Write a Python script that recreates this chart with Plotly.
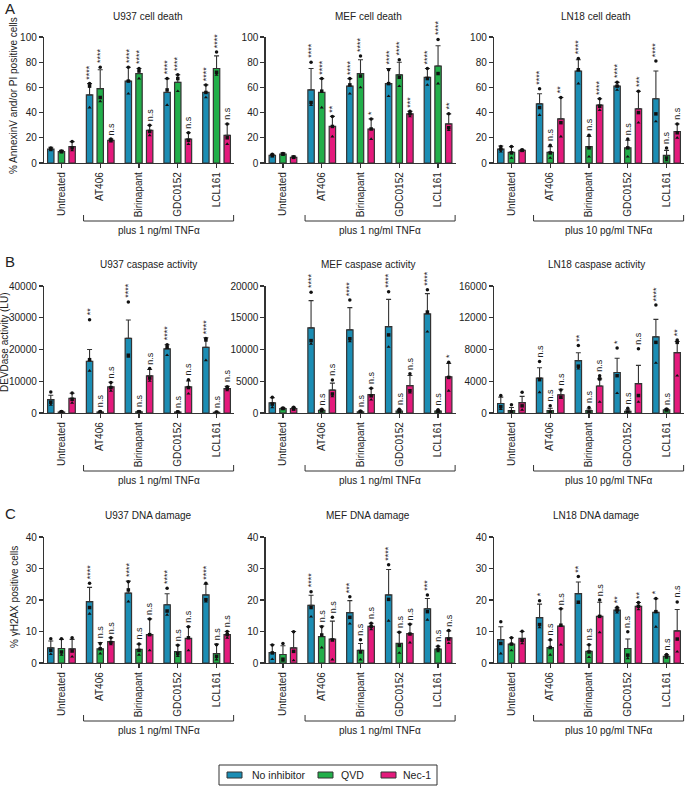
import plotly.graph_objects as go

W, H = 685, 786
FONT = "Liberation Sans, Arial, sans-serif"
TXT = "#222222"
LINE = "#333333"

categories = ["Untreated", "AT406", "Birinapant", "GDC0152", "LCL161"]
series_names = ["No inhibitor", "QVD", "Nec-1"]
series_colors = ["#1B8DB4", "#22AF4A", "#E41A7C"]

# ---------------- Row A: cell death (%) ----------------
a1_mean = [[11, 54, 65, 56, 56], [9, 59, 71, 64, 75], [13, 18, 26, 19, 22]]
a1_sd = [[1.5, 9, 11, 11, 6], [1, 15, 4, 6, 10], [4, 1, 4, 5, 9]]
a1_pts = [
    [[12, 11, 10], [63, 61, 44], [76, 65, 55], [67, 58, 46], [62, 56, 52]],
    [[9.5, 9, 8.5], [76, 52, 49], [75, 73, 67], [70, 67, 57], [88, 72, 70]],
    [[17, 12, 10], [19, 18, 17], [30, 25, 22], [24, 18, 15], [31, 20, 15]],
]
a1_sig = [["", "****", "****", "****", "****"], ["", "****", "****", "****", "****"], ["", "n.s", "n.s", "n.s", "n.s"]]

a2_mean = [[6, 58, 61, 63, 68], [7, 56, 71, 70, 77], [4.5, 29, 27, 39, 31]]
a2_sd = [[1, 17, 6, 12, 7], [1, 11, 11, 10, 16], [1, 8, 8, 2, 8]]
a2_pts = [
    [[7, 6, 5], [80, 48, 46], [67, 62, 55], [74, 63, 53], [75, 67, 62]],
    [[7.5, 7, 6.5], [67, 57, 44], [85, 69, 60], [82, 68, 61], [98, 71, 63]],
    [[5, 4.5, 4], [37, 29, 21], [35, 27, 19], [41, 39, 37], [39, 28, 26]],
]
a2_sig = [["", "****", "****", "****", "****"], ["", "****", "****", "****", "****"], ["", "**", "*", "***", "**"]]

a3_mean = [[11, 47, 73, 61, 51], [8.5, 8.5, 13, 12, 6], [10, 35, 46, 43, 25]]
a3_sd = [[2.5, 8, 9, 3, 22], [4.5, 4.5, 8, 6, 4], [0.5, 17, 5, 14, 6]]
a3_pts = [
    [[13, 11, 9], [59, 44, 38], [83, 74, 63], [64, 61, 58], [81, 39, 33]],
    [[13, 8, 4], [14, 8, 4], [22, 12, 5], [19, 12, 5], [12, 4, 2]],
    [[10.5, 10, 9.5], [52, 32, 21], [51, 45, 42], [57, 40, 32], [31, 24, 20]],
]
a3_sig = [["", "****", "****", "****", "****"], ["", "n.s", "n.s", "n.s", "n.s"], ["", "**", "****", "***", "n.s"]]

# ---------------- Row B: caspase activity (LU) ----------------
b1_mean = [[4200, 16300, 23500, 20200, 20700], [300, 300, 400, 300, 200], [4600, 8200, 11700, 8200, 7700]]
b1_sd = [[1400, 3700, 5800, 1300, 3000], [200, 100, 100, 100, 100], [1600, 1500, 2000, 1900, 700]]
b1_pts = [
    [[6600, 3400, 2600], [29400, 16800, 13300], [35000, 18200, 17700], [21500, 20700, 18200], [23500, 23000, 16600]],
    [[500, 300, 200], [500, 300, 200], [500, 400, 300], [400, 300, 200], [300, 200, 100]],
    [[6300, 4300, 3200], [9600, 8000, 7000], [14000, 11000, 10100], [10500, 8000, 6100], [8300, 7700, 7100]],
]
b1_sig = [["", "**", "****", "****", "****"], ["", "n.s", "n.s", "n.s", "n.s"], ["", "n.s", "n.s", "n.s", "n.s"]]

b2_mean = [[1600, 13400, 13100, 13600, 15600], [700, 400, 200, 300, 300], [700, 3600, 2900, 4300, 5700]]
b2_sd = [[800, 4300, 3500, 4300, 3200], [100, 200, 100, 200, 100], [200, 1100, 1000, 1600, 2100]]
b2_pts = [
    [[2500, 1400, 900], [19000, 11400, 10900], [17800, 11700, 11300], [19100, 12300, 10400], [19400, 15900, 12800]],
    [[800, 700, 600], [600, 400, 200], [300, 200, 100], [600, 200, 100], [500, 300, 100]],
    [[900, 700, 500], [5200, 3000, 2600], [3900, 2700, 2100], [6200, 3500, 3200], [8000, 5600, 3500]],
]
b2_sig = [["", "****", "****", "****", "****"], ["", "n.s", "n.s", "n.s", "n.s"], ["", "n.s", "n.s", "n.s", "*"]]

b3_mean = [[1200, 4400, 6600, 5100, 9600], [300, 300, 300, 200, 400], [1300, 2300, 3400, 3700, 7600]]
b3_sd = [[800, 1300, 1000, 1800, 2200], [400, 300, 200, 200, 100], [800, 700, 900, 2300, 1400]]
b3_pts = [
    [[2200, 800, 500], [6500, 4200, 2600], [8500, 5900, 5600], [8200, 4700, 2500], [13600, 8900, 6300]],
    [[1050, 150, 50], [900, 100, 50], [700, 100, 50], [600, 100, 50], [500, 400, 300]],
    [[2600, 900, 400], [2900, 2000, 1900], [4700, 4300, 1400], [8100, 2200, 1400], [9200, 8900, 4700]],
]
b3_sig = [["", "n.s", "**", "*", "****"], ["", "n.s", "n.s", "n.s", "n.s"], ["", "n.s", "n.s", "n.s", "**"]]

# ---------------- Row C: DNA damage (%) ----------------
c1_mean = [[4.8, 19.5, 22.2, 18.5, 21.6], [4.6, 4.5, 4.3, 3.6, 3.0], [4.5, 6.8, 9.0, 7.8, 9.0]]
c1_sd = [[2.2, 4.5, 3.8, 3.5, 3.4], [2.9, 2.0, 1.7, 2.1, 3.0], [3.0, 1.2, 5.0, 3.7, 1.0]]
c1_pts = [
    [[7.7, 4.0, 2.8], [25.3, 17.6, 15.6], [25.8, 23.2, 19.5], [23.7, 16.5, 15.3], [25.3, 20.1, 19.5]],
    [[7.7, 3.5, 2.6], [6.2, 4.5, 3.0], [6.0, 4.0, 2.6], [5.6, 3.0, 2.2], [5.8, 2.1, 1.1]],
    [[8.0, 3.8, 2.0], [8.0, 6.5, 5.9], [14.0, 9.0, 4.0], [11.5, 8.0, 4.0], [10.0, 9.0, 8.0]],
]
c1_sig = [["", "****", "****", "****", "****"], ["", "n.s", "n.s", "n.s", "n.s"], ["", "n.s", "n.s", "n.s", "n.s"]]

c2_mean = [[3.3, 18.3, 16.0, 21.6, 17.2], [2.7, 8.4, 4.0, 6.2, 4.4], [4.8, 7.6, 11.6, 9.3, 8.0]]
c2_sd = [[2.5, 3.2, 3.8, 8.1, 3.3], [2.8, 3.3, 2.2, 3.6, 0.9], [5.2, 5.7, 1.0, 3.1, 2.2]]
c2_pts = [
    [[5.7, 3.2, 1.2], [22.6, 17.6, 14.7], [21.0, 14.5, 12.5], [31.2, 20.2, 13.4], [21.6, 16.3, 13.7]],
    [[6.2, 1.2, 0.7], [11.5, 8.9, 4.9], [7.4, 3.5, 1.1], [9.8, 5.6, 3.2], [5.3, 4.3, 3.7]],
    [[9.9, 3.7, 0.8], [14.5, 7.3, 1.1], [12.6, 11.6, 10.7], [12.3, 9.2, 6.5], [10.3, 7.6, 6.3]],
]
c2_sig = [["", "****", "***", "****", "***"], ["", "n.s", "n.s", "n.s", "n.s"], ["", "n.s", "n.s", "n.s", "n.s"]]

c3_mean = [[7.4, 14.4, 22.0, 16.8, 16.1], [6.0, 4.9, 3.7, 4.6, 2.1], [7.8, 11.7, 14.8, 18.0, 10.2]]
c3_sd = [[4.1, 4.3, 3.7, 0.7, 4.3], [2.0, 2.4, 2.1, 3.0, 0.5], [2.2, 5.5, 4.5, 1.2, 6.8]]
c3_pts = [
    [[13.1, 6.2, 3.0], [19.8, 12.2, 11.3], [27.5, 19.3, 19.2], [17.7, 16.8, 16.0], [20.5, 16.3, 11.5]],
    [[8.0, 6.0, 4.0], [7.4, 4.9, 2.6], [5.8, 3.5, 1.9], [9.9, 2.5, 1.5], [2.7, 2.1, 1.6]],
    [[10.1, 7.2, 6.2], [17.2, 12.0, 5.8], [20.0, 14.8, 9.7], [19.2, 18.0, 17.0], [19.4, 7.6, 3.6]],
]
c3_sig = [["", "*", "**", "**", "*"], ["", "n.s", "n.s", "n.s", "n.s"], ["", "n.s", "n.s", "**", "n.s"]]

panel_titles = ["U937 cell death", "MEF cell death", "LN18 cell death",
                "U937 caspase activity", "MEF caspase activity", "LN18 caspase activity",
                "U937 DNA damage", "MEF DNA damage", "LN18 DNA damage"]
panel_ymax = [100, 100, 100, 40000, 20000, 16000, 40, 40, 40]
panel_dtick = [20, 20, 20, 10000, 5000, 4000, 10, 10, 10]
tnf_labels = ["plus 1 ng/ml TNFα", "plus 1 ng/ml TNFα", "plus 10 pg/ml TNFα"]
row_ytitles = ["% AnnexinV and/or PI positive cells", "DEVDase activity (LU)", "% γH2AX positive cells"]
row_letters = ["A", "B", "C"]

means = [a1_mean, a2_mean, a3_mean, b1_mean, b2_mean, b3_mean, c1_mean, c2_mean, c3_mean]
sds = [a1_sd, a2_sd, a3_sd, b1_sd, b2_sd, b3_sd, c1_sd, c2_sd, c3_sd]
pts = [a1_pts, a2_pts, a3_pts, b1_pts, b2_pts, b3_pts, c1_pts, c2_pts, c3_pts]
sigs = [a1_sig, a2_sig, a3_sig, b1_sig, b2_sig, b3_sig, c1_sig, c2_sig, c3_sig]

# ---------------- layout geometry (pixels) ----------------
col_left = [44, 265.5, 494]
col_width = 190
row_top = [37, 286, 537]
row_bot = [163, 413, 663]
title_y = [17, 264, 515]
title_x = [148, 368, 596]
ytitle_x = [14, 5, 14]
ytitle_y = [96, 343, 597]
letter_y = [9, 262, 513]
xr = [-0.45, 4.45]
offsets = [-0.275, 0.0, 0.275]
bar_w = 0.165
symbols = ["circle", "square", "triangle-up"]


def pxx(p):
    return p / W


def pxy(p):
    return 1 - p / H


def data_to_px(c, x):
    return col_left[c] + (x - xr[0]) * col_width / (xr[1] - xr[0])


fig = go.Figure()
layout = {}
annotations = []
shapes = []

for p in range(9):
    r, c = divmod(p, 3)
    n = p + 1
    xa = "x" if n == 1 else f"x{n}"
    ya = "y" if n == 1 else f"y{n}"
    ncat = len(categories)
    for s in range(3):
        xs = [i + offsets[s] for i in range(ncat)]
        fig.add_trace(go.Bar(
            x=xs, y=means[p][s], width=bar_w, name=series_names[s], showlegend=False,
            marker=dict(color=series_colors[s], line=dict(color=LINE, width=1.2)),
            error_y=dict(type="data", symmetric=False, array=sds[p][s], arrayminus=[0] * ncat,
                         color=LINE, thickness=1.1, width=2.5),
            xaxis=xa, yaxis=ya, hoverinfo="skip"))
    for s in range(3):
        px_, py_, sym = [], [], []
        for i in range(ncat):
            for k, v in enumerate(pts[p][s][i]):
                px_.append(i + offsets[s])
                py_.append(v)
                sym.append(symbols[k % 3])
        fig.add_trace(go.Scatter(
            x=px_, y=py_, mode="markers", showlegend=False, hoverinfo="skip", cliponaxis=False,
            marker=dict(size=3.5, color="#111111", symbol=sym, line=dict(width=0)),
            xaxis=xa, yaxis=ya))
    # significance labels
    for s in range(3):
        for i in range(ncat):
            lab = sigs[p][s][i]
            if not lab:
                continue
            top = max(means[p][s][i] + sds[p][s][i], max(pts[p][s][i]))
            annotations.append(dict(
                x=i + offsets[s], y=top, xref=xa, yref=ya, text=lab, showarrow=False,
                textangle=-90, xanchor="center", yanchor="bottom", yshift=2,
                font=dict(size=9, color=TXT, family=FONT)))

    layout["xaxis" if n == 1 else f"xaxis{n}"] = dict(
        domain=[pxx(col_left[c]), pxx(col_left[c] + col_width)], range=xr, anchor=ya,
        tickmode="array", tickvals=list(range(ncat)), ticktext=categories, tickangle=-90,
        ticks="outside", ticklen=4, tickcolor=LINE, tickwidth=1.2,
        showline=True, linecolor=LINE, linewidth=1.2, showgrid=False, zeroline=False,
        tickfont=dict(size=10, color=TXT, family=FONT), fixedrange=True)
    layout["yaxis" if n == 1 else f"yaxis{n}"] = dict(
        domain=[pxy(row_bot[r]), pxy(row_top[r])], range=[0, panel_ymax[p]], anchor=xa,
        tick0=0, dtick=panel_dtick[p], tickformat="d",
        ticks="outside", ticklen=4, tickcolor=LINE, tickwidth=1.2,
        showline=True, linecolor=LINE, linewidth=1.2, showgrid=False, zeroline=False,
        tickfont=dict(size=10, color=TXT, family=FONT), fixedrange=True)

    # panel title
    annotations.append(dict(x=pxx(title_x[c]), y=pxy(title_y[r]), xref="paper", yref="paper",
                            text=panel_titles[p], showarrow=False, xanchor="center", yanchor="middle",
                            font=dict(size=10, color=TXT, family=FONT)))
    # bracket under treated groups
    bx0 = data_to_px(c, 0.57)
    bx1 = data_to_px(c, 4.44)
    by = row_bot[r] + 58
    shapes.append(dict(type="path", xref="paper", yref="paper",
                       path=f"M {pxx(bx0)},{pxy(by - 6)} L {pxx(bx0)},{pxy(by)} L {pxx(bx1)},{pxy(by)} L {pxx(bx1)},{pxy(by - 6)}",
                       line=dict(color=LINE, width=1)))
    annotations.append(dict(x=pxx((bx0 + bx1) / 2), y=pxy(by + 9), xref="paper", yref="paper",
                            text=tnf_labels[c], showarrow=False, xanchor="center", yanchor="middle",
                            font=dict(size=10, color=TXT, family=FONT)))

for r in range(3):
    annotations.append(dict(x=pxx(ytitle_x[r]), y=pxy(ytitle_y[r]), xref="paper", yref="paper",
                            text=row_ytitles[r], showarrow=False, textangle=-90,
                            xanchor="center", yanchor="middle",
                            font=dict(size=10, color=TXT, family=FONT)))
    annotations.append(dict(x=pxx(3), y=pxy(letter_y[r]), xref="paper", yref="paper",
                            text=row_letters[r], showarrow=False, xanchor="left", yanchor="middle",
                            font=dict(size=15, color=TXT, family=FONT)))

# manual legend
leg_box = (219, 765, 437, 785)
shapes.append(dict(type="rect", xref="paper", yref="paper",
                   x0=pxx(leg_box[0]), x1=pxx(leg_box[2]), y0=pxy(leg_box[3]), y1=pxy(leg_box[1]),
                   line=dict(color=LINE, width=1), fillcolor="white"))
swatch_x = [227, 318, 381]
label_x = [250, 339, 401]
for s in range(3):
    shapes.append(dict(type="rect", xref="paper", yref="paper",
                       x0=pxx(swatch_x[s]), x1=pxx(swatch_x[s] + 15), y0=pxy(778), y1=pxy(772),
                       line=dict(color=LINE, width=1), fillcolor=series_colors[s]))
    annotations.append(dict(x=pxx(label_x[s]), y=pxy(775), xref="paper", yref="paper",
                            text=series_names[s], showarrow=False, xanchor="left", yanchor="middle",
                            font=dict(size=10.5, color=TXT, family=FONT)))

fig.update_layout(
    width=W, height=H, margin=dict(l=0, r=0, t=0, b=0, autoexpand=False),
    paper_bgcolor="white", plot_bgcolor="white", barmode="overlay",
    font=dict(family=FONT, size=10, color=TXT),
    annotations=annotations, shapes=shapes, showlegend=False, **layout)

fig.write_html(
    "out.html",
    config={"displayModeBar": False, "staticPlot": True},
    post_script="document.documentElement.style.margin='0';document.body.style.margin='0';"
                "document.body.style.padding='0';document.body.style.overflow='hidden';")
